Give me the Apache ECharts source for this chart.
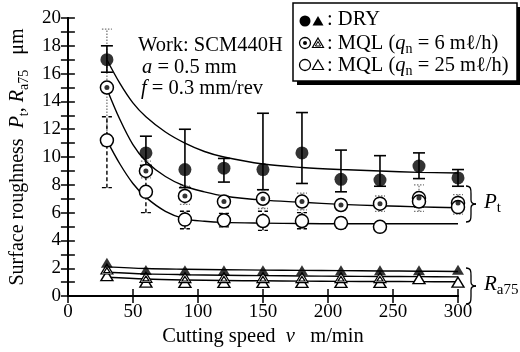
<!DOCTYPE html>
<html>
<head>
<meta charset="utf-8">
<script src="https://cdn.jsdelivr.net/npm/echarts@6/dist/echarts.min.js"></script>
<style>
  html, body { margin: 0; padding: 0; background: #fff; }
  #chart { width: 520px; height: 352px; }
</style>
</head>
<body>
<div id="chart"></div>
<script>
// Cutting speeds at which roughness was measured (m/min)
const speeds = [30, 60, 90, 120, 150, 180, 210, 240, 270, 300];

// Maximum profile height Pt (µm) with error range
const ptDry      = [17.0, 10.3, 9.1, 9.2, 9.1, 10.3, 8.4, 8.35, 9.35, 8.5];
const ptDryLow   = [16.1, 9.4, 7.8, 8.2, 7.65, 8.1, 7.5, 7.9, 8.45, 7.9];
const ptDryHigh  = [18.0, 11.5, 12.0, 9.9, 13.15, 13.2, 10.5, 10.1, 10.3, 9.1];

const ptMql6     = [15.0, 9.0, 7.2, 6.8, 7.0, 6.8, 6.55, 6.65, 7.05, 6.7];
const ptMql6Low  = [10.8, 8.5, 6.6, 6.4, 6.3, 6.2, 6.2, 6.1, 6.1, 5.9];
const ptMql6High = [19.2, 9.7, 7.9, 7.2, 7.65, 7.4, 6.9, 7.2, 8.0, 7.3];

const ptMql25     = [11.2, 7.5, 5.5, 5.45, 5.4, 5.4, 5.25, 4.98, 6.8, 6.4];
const ptMql25Low  = [7.8, 6.0, 4.84, 4.98, 4.73, 4.84, 4.9, 4.7, 6.4, 6.1];
const ptMql25High = [12.9, 9.0, 6.1, 5.95, 6.1, 6.0, 5.6, 5.3, 7.2, 6.8];

// Arithmetic mean roughness Ra75 (µm)
const raDry   = [2.4, 1.88, 1.86, 1.86, 1.86, 1.86, 1.86, 1.86, 1.86, 1.9];
const raMql6  = [1.95, 1.35, 1.33, 1.33, 1.33, 1.33, 1.33, 1.33, null, null];
const raMql25 = [1.47, 1.0, 0.98, 0.98, 0.98, 0.98, 0.98, 0.98, 1.25, 1.0];

// Trend curves for Pt
const fitSpeeds = [30, 40, 50, 60, 75, 90, 105, 120, 150, 180, 210, 240, 270, 300];
const ptDryFit   = [17.0, 15.3, 13.9, 12.9, 11.8, 11.0, 10.4, 10.0, 9.5, 9.25, 9.1, 9.0, 8.9, 8.85];
const ptMql6Fit  = [14.9, 12.7, 10.9, 9.7, 8.6, 7.9, 7.5, 7.2, 6.9, 6.75, 6.6, 6.5, 6.42, 6.35];
const ptMql25Fit = [11.2, 9.5, 8.1, 7.1, 6.1, 5.55, 5.38, 5.3, 5.25, 5.22, 5.2, 5.2, 5.2, 5.2];

// Trend lines for Ra75
const raDryFit   = [2.1, 1.98, 1.93, 1.9, 1.87, 1.85, 1.83, 1.81, 1.79, 1.77];
const raMql6Fit  = [1.72, 1.6, 1.54, 1.5, 1.47, 1.45, 1.43, 1.41, 1.4, 1.38];
const raMql25Fit = [1.36, 1.23, 1.16, 1.12, 1.1, 1.08, 1.06, 1.05, 1.04, 1.03];

// Axis ticks
const xTicks = [0, 50, 100, 150, 200, 250, 300];
const yTicks = [0, 2, 4, 6, 8, 10, 12, 14, 16, 18, 20];

const FONT = '"Liberation Serif", "Times New Roman", serif';
const TXT = 20.5;

const pairs = (xs, ys) => xs.map((x, i) => [x, ys[i]]);
const ranges = (lo, hi) => speeds.map((x, i) => [x, lo[i], hi[i]]);

function errorBar(style, capHalf) {
  return function (params, api) {
    const x = api.value(0);
    const lo = api.coord([x, api.value(1)]);
    const hi = api.coord([x, api.value(2)]);
    return {
      type: 'group',
      children: [
        { type: 'line', shape: { x1: lo[0], y1: lo[1], x2: hi[0], y2: hi[1] }, style: style },
        { type: 'line', shape: { x1: lo[0] - capHalf, y1: lo[1], x2: lo[0] + capHalf, y2: lo[1] }, style: style },
        { type: 'line', shape: { x1: hi[0] - capHalf, y1: hi[1], x2: hi[0] + capHalf, y2: hi[1] }, style: style }
      ]
    };
  };
}

const triInner = 'path://M5,0L10,9L0,9Z M5,3.4L7.5,7.6L2.5,7.6Z';

function fitLine(xs, ys) {
  return {
    type: 'line', data: pairs(xs, ys), smooth: 0.35, showSymbol: false, silent: true,
    lineStyle: { color: '#000', width: 1.4 }, z: 2
  };
}

// Curly brace made of bezier pieces, opening to the left
function brace(x, y, h) {
  const m = y + h / 2, xm = x + 5, xt = x + 10;
  const st = { stroke: '#000', lineWidth: 1.3, fill: null };
  return [
    { type: 'bezierCurve', z: 10, shape: { x1: x, y1: y, cpx1: xm, cpy1: y, cpx2: xm, cpy2: y + 3, x2: xm, y2: y + 8 }, style: st },
    { type: 'line', z: 10, shape: { x1: xm, y1: y + 8, x2: xm, y2: m - 4 }, style: st },
    { type: 'bezierCurve', z: 10, shape: { x1: xm, y1: m - 4, cpx1: xm, cpy1: m - 1, cpx2: xm + 2, cpy2: m, x2: xt, y2: m }, style: st },
    { type: 'bezierCurve', z: 10, shape: { x1: xt, y1: m, cpx1: xm + 2, cpy1: m, cpx2: xm, cpy2: m + 1, x2: xm, y2: m + 4 }, style: st },
    { type: 'line', z: 10, shape: { x1: xm, y1: m + 4, x2: xm, y2: y + h - 8 }, style: st },
    { type: 'bezierCurve', z: 10, shape: { x1: xm, y1: y + h - 8, cpx1: xm, cpy1: y + h - 3, cpx2: xm, cpy2: y + h, x2: x, y2: y + h }, style: st }
  ];
}

const axisLine = { show: true, lineStyle: { color: '#000', width: 2 } };
const axisTick = { show: true, inside: true, length: 7, lineStyle: { color: '#000', width: 1.5 } };
const minorTick = { show: true, splitNumber: 2, length: 7, lineStyle: { color: '#000', width: 1.5 } };
const label = { color: '#000', fontFamily: FONT, fontSize: 19 };

const richSub = {
  i: { fontStyle: 'italic', fontFamily: FONT, fontSize: TXT, lineHeight: 25, fill: '#000' },
  s: { fontFamily: FONT, fontSize: 14, lineHeight: 25, verticalAlign: 'bottom', fill: '#000' }
};

const chart = echarts.init(document.getElementById('chart'), null, { renderer: 'canvas' });

const option = {
  animation: false,
  backgroundColor: '#fff',
  grid: { left: 63, right: 62, top: 18, bottom: 48 },
  xAxis: [
    {
      type: 'value', min: xTicks[0], max: xTicks[xTicks.length - 1], interval: 50,
      position: 'bottom', axisLine, axisTick, splitLine: { show: false },
      axisLabel: Object.assign({ margin: 6 }, label),
      name: '{n|Cutting speed  }{i|v}{n|   m/min}',
      nameLocation: 'middle', nameGap: 19,
      nameTextStyle: {
        color: '#000', fontFamily: FONT, fontSize: 20.5,
        rich: {
          n: { fontFamily: FONT, fontSize: 20.5, color: '#000' },
          i: { fontFamily: FONT, fontSize: 20.5, fontStyle: 'italic', color: '#000' }
        }
      }
    },
    {
      type: 'value', min: xTicks[0], max: xTicks[xTicks.length - 1], interval: 50,
      position: 'top', axisLine, axisTick, splitLine: { show: false },
      axisLabel: { show: false }
    }
  ],
  yAxis: [
    {
      type: 'value', min: yTicks[0], max: yTicks[yTicks.length - 1], interval: 2,
      position: 'left', axisLine, axisTick, minorTick, splitLine: { show: false },
      axisLabel: Object.assign({ margin: 7 }, label),
      name: '{n|Surface roughness  }{i|P}{s|t}{n|, }{i|R}{s|a75}{n|   μm}',
      nameLocation: 'middle', nameGap: 33,
      nameTextStyle: {
        color: '#000', fontFamily: FONT, fontSize: 20,
        rich: {
          n: { fontFamily: FONT, fontSize: 20, color: '#000', lineHeight: 26 },
          i: { fontFamily: FONT, fontSize: 20, fontStyle: 'italic', color: '#000', lineHeight: 26 },
          s: { fontFamily: FONT, fontSize: 14, color: '#000', lineHeight: 26, verticalAlign: 'bottom' }
        }
      }
    },
    {
      type: 'value', min: yTicks[0], max: yTicks[yTicks.length - 1], interval: 2,
      position: 'right', axisLine, axisTick, minorTick, splitLine: { show: false },
      axisLabel: { show: false }
    }
  ],
  series: [
    fitLine(fitSpeeds, ptDryFit),
    fitLine(fitSpeeds, ptMql6Fit),
    fitLine(fitSpeeds, ptMql25Fit),
    fitLine(speeds, raDryFit),
    fitLine(speeds, raMql6Fit),
    fitLine(speeds, raMql25Fit),

    { type: 'custom', data: ranges(ptMql6Low, ptMql6High), z: 3, silent: true,
      renderItem: errorBar({ stroke: '#777', lineWidth: 1.3, lineDash: [1.5, 1.5] }, 5) },
    { type: 'custom', data: ranges(ptMql25Low, ptMql25High), z: 3, silent: true,
      renderItem: errorBar({ stroke: '#000', lineWidth: 1.4, lineDash: [4, 2.5] }, 5) },
    { type: 'custom', data: ranges(ptDryLow, ptDryHigh), z: 3, silent: true,
      renderItem: errorBar({ stroke: '#000', lineWidth: 1.6 }, 6) },

    { type: 'scatter', data: pairs(speeds, ptDry), symbol: 'circle', symbolSize: 13, z: 5,
      itemStyle: { color: '#000' } },
    { type: 'scatter', data: pairs(speeds, ptMql6), symbol: 'circle', symbolSize: 13, z: 5,
      itemStyle: { color: '#fff', borderColor: '#000', borderWidth: 1.5, opacity: 1 } },
    { type: 'scatter', data: pairs(speeds, ptMql6), symbol: 'circle', symbolSize: 5, z: 6,
      itemStyle: { color: '#000' } },
    { type: 'scatter', data: pairs(speeds, ptMql25), symbol: 'circle', symbolSize: 13, z: 5,
      itemStyle: { color: '#fff', borderColor: '#000', borderWidth: 1.5, opacity: 1 } },

    { type: 'scatter', data: pairs(speeds, raMql25), symbol: 'triangle', symbolSize: [12, 10], z: 5,
      itemStyle: { color: '#fff', borderColor: '#000', borderWidth: 1.4, opacity: 1 } },
    { type: 'scatter', data: pairs(speeds, raMql6).filter(p => p[1] != null), symbol: triInner, symbolSize: [12, 10], z: 6,
      itemStyle: { color: '#fff', borderColor: '#000', borderWidth: 1.2, opacity: 1 } },
    { type: 'scatter', data: pairs(speeds, raDry), symbol: 'triangle', symbolSize: [12, 10], z: 7,
      itemStyle: { color: '#000' } }
  ],
  graphic: [
    // cutting conditions
    { type: 'text', x: 138, y: 35, z: 10,
      style: { text: 'Work: SCM440H', font: TXT + 'px ' + FONT, fill: '#000' } },
    { type: 'text', x: 142, y: 55, z: 10,
      style: { text: '{i|a} = 0.5 mm', font: TXT + 'px ' + FONT, fill: '#000', rich: richSub } },
    { type: 'text', x: 141, y: 76, z: 10,
      style: { text: '{i|f} = 0.3 mm/rev', font: TXT + 'px ' + FONT, fill: '#000', rich: richSub } },

    // key box with drop shadow
    { type: 'rect', z: 20, shape: { x: 297, y: 7, width: 224, height: 78 }, style: { fill: '#000' } },
    { type: 'rect', z: 21, shape: { x: 293, y: 3, width: 224, height: 78 },
      style: { fill: '#fff', stroke: '#000', lineWidth: 1.5 } },

    { type: 'circle', z: 22, shape: { cx: 305, cy: 21, r: 5.5 }, style: { fill: '#000' } },
    { type: 'polygon', z: 22, shape: { points: [[318, 16], [323.5, 25.5], [312.5, 25.5]] }, style: { fill: '#000' } },
    { type: 'text', z: 22, x: 327, y: 9,
      style: { text: ': DRY', font: TXT + 'px ' + FONT, fill: '#000' } },

    { type: 'circle', z: 22, shape: { cx: 305, cy: 43, r: 5.5 }, style: { fill: '#fff', stroke: '#000', lineWidth: 1.3 } },
    { type: 'circle', z: 23, shape: { cx: 305, cy: 43, r: 2 }, style: { fill: '#000' } },
    { type: 'polygon', z: 22, shape: { points: [[318, 38], [323.5, 47.5], [312.5, 47.5]] }, style: { fill: '#fff', stroke: '#000', lineWidth: 1.2 } },
    { type: 'polygon', z: 23, shape: { points: [[318, 41.5], [320.6, 46], [315.4, 46]] }, style: { fill: '#fff', stroke: '#000', lineWidth: 1 } },
    { type: 'text', z: 22, x: 327, y: 31,
      style: { text: ': MQL ({i|q}{s|n} = 6 mℓ/h)', font: TXT + 'px ' + FONT, fill: '#000', rich: richSub } },

    { type: 'circle', z: 22, shape: { cx: 305, cy: 65, r: 5.5 }, style: { fill: '#fff', stroke: '#000', lineWidth: 1.3 } },
    { type: 'polygon', z: 22, shape: { points: [[318, 60], [323.5, 69.5], [312.5, 69.5]] }, style: { fill: '#fff', stroke: '#000', lineWidth: 1.2 } },
    { type: 'text', z: 22, x: 327, y: 53,
      style: { text: ': MQL ({i|q}{s|n} = 25 mℓ/h)', font: TXT + 'px ' + FONT, fill: '#000', rich: richSub } },

    // braces grouping the two measures
    ...brace(466, 186, 36),
    { type: 'text', z: 10, x: 484, y: 189,
      style: { text: '{i|P}{s|t}', font: '21px ' + FONT, fill: '#000',
        rich: {
          i: { fontStyle: 'italic', fontFamily: FONT, fontSize: 21, lineHeight: 27 },
          s: { fontFamily: FONT, fontSize: 15, lineHeight: 27, verticalAlign: 'bottom' }
        } } },
    ...brace(466, 268, 36),
    { type: 'text', z: 10, x: 484, y: 271,
      style: { text: '{i|R}{s|a75}', font: '21px ' + FONT, fill: '#000',
        rich: {
          i: { fontStyle: 'italic', fontFamily: FONT, fontSize: 21, lineHeight: 27 },
          s: { fontFamily: FONT, fontSize: 15, lineHeight: 27, verticalAlign: 'bottom' }
        } } }
  ]
};

chart.setOption(option);
</script>
</body>
</html>
